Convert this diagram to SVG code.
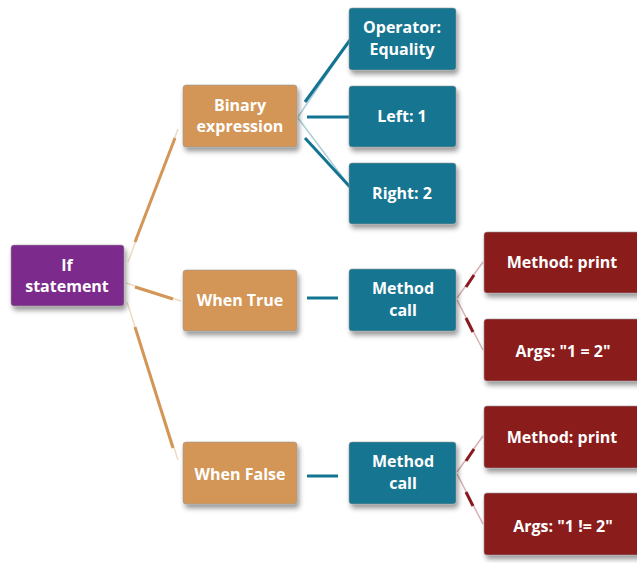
<svg xmlns="http://www.w3.org/2000/svg" width="637" height="563" viewBox="0 0 637 563">
<defs>
<filter id="sh" x="-20%" y="-20%" width="150%" height="160%">
<feDropShadow dx="2" dy="4" stdDeviation="2.5" flood-color="#000" flood-opacity="0.4"/>
</filter>
<style>
.box{stroke:#9a9a9a;stroke-opacity:0.6;stroke-width:1;filter:url(#sh)}
.p{fill:#7B2A8B}
.o{fill:#D49656}
.t{fill:#137491}
.r{fill:#8B1A1F}
text{font-family:"Open Sans","Liberation Sans",sans-serif;font-weight:bold;font-size:16px;fill:#fff;text-anchor:middle}
.ct{stroke-width:1.5;stroke-opacity:0.35;fill:none}
.cm{stroke-width:3;fill:none}
.oc{stroke:#D49656}
.tc{stroke:#137491}
.rc{stroke:#8B1A1F}
</style>
</defs>
<g id="connectors">
<line class="ct oc" x1="128" y1="262" x2="178" y2="129"/>
<line class="cm oc" x1="135" y1="242" x2="175" y2="138"/>
<line class="ct oc" x1="126" y1="283" x2="181" y2="301"/>
<line class="cm oc" x1="135" y1="287" x2="173" y2="299"/>
<line class="ct oc" x1="127" y1="302" x2="178" y2="460"/>
<line class="cm oc" x1="135" y1="327" x2="173" y2="448"/>
<line class="ct tc" x1="298" y1="117" x2="350" y2="40"/>
<line class="cm tc" x1="305" y1="102" x2="350" y2="40"/>
<line class="cm tc" x1="307" y1="117" x2="350" y2="117"/>
<line class="ct tc" x1="298" y1="118" x2="350" y2="187"/>
<line class="cm tc" x1="305" y1="138" x2="350" y2="187"/>
<line class="cm tc" x1="307" y1="298" x2="338" y2="298"/>
<line class="cm tc" x1="307" y1="476" x2="338" y2="476"/>
<line class="ct rc" x1="457" y1="298" x2="483" y2="262"/>
<line class="cm rc" x1="466" y1="287" x2="474" y2="275"/>
<line class="ct rc" x1="457" y1="300" x2="483" y2="350"/>
<line class="cm rc" x1="466" y1="318" x2="473" y2="332"/>
<line class="ct rc" x1="457" y1="472" x2="483" y2="436"/>
<line class="cm rc" x1="466" y1="461" x2="474" y2="449"/>
<line class="ct rc" x1="457" y1="474" x2="483" y2="524"/>
<line class="cm rc" x1="466" y1="492" x2="473" y2="506"/>
</g>
<g id="if-statement">
<rect class="box p" x="11" y="245" width="113" height="61" rx="3"/>
<text x="67" y="271">If</text>
<text x="67" y="292">statement</text>
</g>
<g id="binary-expression">
<rect class="box o" x="183" y="85" width="114" height="62" rx="3"/>
<text x="240" y="111">Binary</text>
<text x="240" y="132">expression</text>
</g>
<g id="when-true">
<rect class="box o" x="183" y="270" width="114" height="61" rx="3"/>
<text x="240" y="306">When True</text>
</g>
<g id="when-false">
<rect class="box o" x="183" y="442" width="114" height="62" rx="3"/>
<text x="240" y="480">When False</text>
</g>
<g id="operator">
<rect class="box t" x="349" y="8" width="107" height="62" rx="3"/>
<text x="402" y="33">Operator:</text>
<text x="402" y="55">Equality</text>
</g>
<g id="left">
<rect class="box t" x="349" y="86" width="107" height="61" rx="3"/>
<text x="402" y="122">Left: 1</text>
</g>
<g id="right">
<rect class="box t" x="349" y="163" width="107" height="61" rx="3"/>
<text x="402" y="199">Right: 2</text>
</g>
<g id="method-call-1">
<rect class="box t" x="349" y="269" width="107" height="62" rx="3"/>
<text x="403" y="294">Method</text>
<text x="403" y="316">call</text>
</g>
<g id="method-call-2">
<rect class="box t" x="349" y="442" width="107" height="62" rx="3"/>
<text x="403" y="467">Method</text>
<text x="403" y="489">call</text>
</g>
<g id="method-print-1">
<rect class="box r" x="484" y="232" width="158" height="61" rx="3"/>
<text x="562" y="268">Method: print</text>
</g>
<g id="args-1">
<rect class="box r" x="484" y="319" width="158" height="62" rx="3"/>
<text x="563" y="357">Args: "1 = 2"</text>
</g>
<g id="method-print-2">
<rect class="box r" x="484" y="406" width="158" height="62" rx="3"/>
<text x="562" y="443">Method: print</text>
</g>
<g id="args-2">
<rect class="box r" x="484" y="493" width="158" height="62" rx="3"/>
<text x="563" y="532">Args: "1 != 2"</text>
</g>
</svg>
